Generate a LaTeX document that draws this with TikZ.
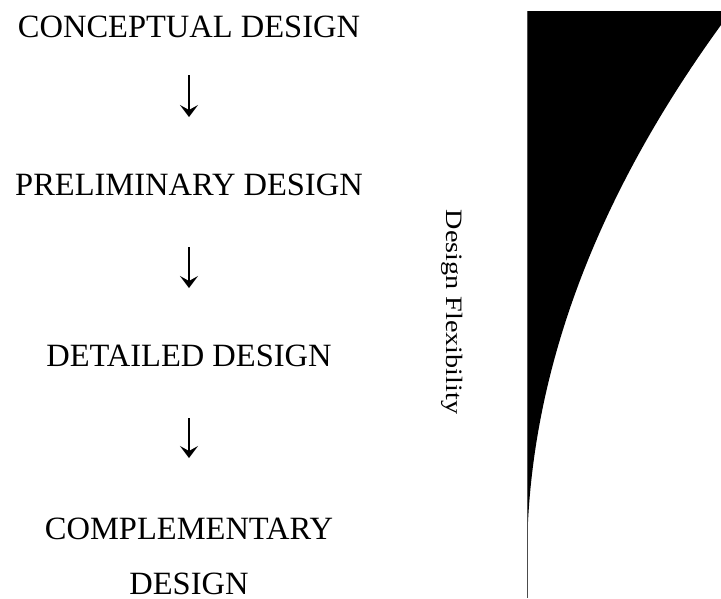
\documentclass[tikz,border=0pt]{standalone}
\usepackage{fontspec}
\setmainfont{Liberation Serif}
\usetikzlibrary{arrows.meta}
\begin{document}
\begin{tikzpicture}[x=1pt,y=-1pt,
  stage/.style={anchor=base,inner sep=0pt,font=\fontsize{32.5}{38}\selectfont},
  arr/.style={line width=1.8pt,-{Stealth[length=12pt,width=18pt,inset=5pt]}}]
\useasboundingbox (0,0) rectangle (721,598);
\node[stage] (c1) at (189,37) {CONCEPTUAL DESIGN};
\node[stage] (c2) at (189,195) {PRELIMINARY DESIGN};
\node[stage] (c3) at (189,366) {DETAILED DESIGN};
\node[stage] (c4) at (189,539) {COMPLEMENTARY};
\node[stage] (c5) at (189,594) {DESIGN};
\draw[arr,shorten <=38pt,shorten >=78pt] (c1.base) -- (c2.base);
\draw[arr,shorten <=52pt,shorten >=78pt] (c2.base) -- (c3.base);
\draw[arr,shorten <=52pt,shorten >=81pt] (c3.base) -- (c4.base);
\node[rotate=-90,inner sep=0pt,font=\fontsize{23.5}{28}\selectfont] (flex) at (452,312) {\scalebox{1.2}[1]{Design Flexibility}};
\fill[black] (527,11) -- (721,11) -- (721,25)
  .. controls (591.7,203.3) and (527,381.7) .. (527,560) -- cycle;
\draw[line width=0.8pt,black!70] (527,11) -- (527,598);
\end{tikzpicture}
\end{document}
